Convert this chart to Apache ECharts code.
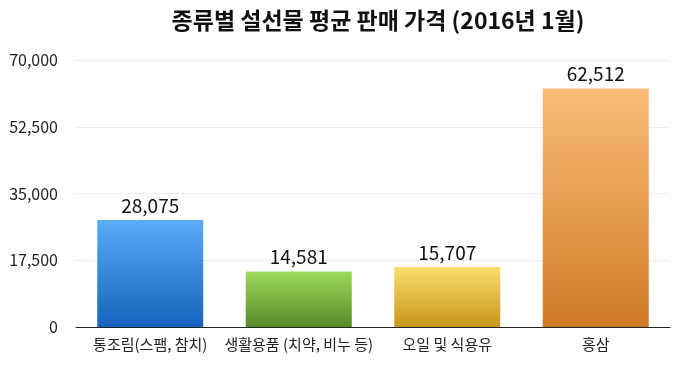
<!DOCTYPE html>
<html><head><meta charset="utf-8">
<script src="https://cdn.jsdelivr.net/npm/echarts@6/dist/echarts.min.js"></script>
<style>html,body{margin:0;padding:0;background:#fff}#c{width:680px;height:370px}</style>
</head><body><div id="c"></div>
<script>
const categories = ['통조림(스팸, 참치)', '생활용품 (치약, 비누 등)', '오일 및 식용유', '홍삼'];
const values = [28075, 14581, 15707, 62512];
const colorTops = ['#5AACF6', '#9DDA5B', '#FADD6C', '#FBBD78'];
const colorBottoms = ['#1463BE', '#588A28', '#C8951D', '#CF7A25'];
const FONT = '"Noto Sans CJK KR", "Noto Sans", sans-serif';
const chart = echarts.init(document.getElementById('c'));
chart.setOption({
  animation: false,
  title: {
    text: '종류별 설선물 평균 판매 가격 (2016년 1월)',
    left: 373, top: 4, textAlign: 'center',
    textStyle: {fontFamily: FONT, fontSize: 23, fontWeight: 'bold', color: '#111'}
  },
  grid: {left: 76, right: 10, top: 60, bottom: 43},
  xAxis: {
    type: 'category', data: categories,
    axisLine: {lineStyle: {color: '#222', width: 1}},
    axisTick: {show: false},
    axisLabel: {fontFamily: FONT, fontSize: 15, color: '#222', margin: 10, interval: 0}
  },
  yAxis: {
    type: 'value', min: 0, max: 70000, interval: 17500,
    axisLine: {show: false}, axisTick: {show: false},
    splitLine: {lineStyle: {color: '#ebebeb', width: 1}},
    axisLabel: {fontFamily: FONT, fontSize: 16, color: '#222', margin: 18,
      formatter: v => v.toLocaleString('en-US')}
  },
  series: [{
    type: 'bar', barWidth: 106,
    data: values.map((v, i) => ({
      value: v,
      itemStyle: {color: new echarts.graphic.LinearGradient(0, 0, 0, 1, [
        {offset: 0, color: colorTops[i]}, {offset: 1, color: colorBottoms[i]}])}
    })),
    label: {show: true, position: 'top', distance: 5, fontFamily: FONT, fontSize: 19, color: '#111',
      formatter: p => p.value.toLocaleString('en-US')}
  }]
});
</script></body></html>
